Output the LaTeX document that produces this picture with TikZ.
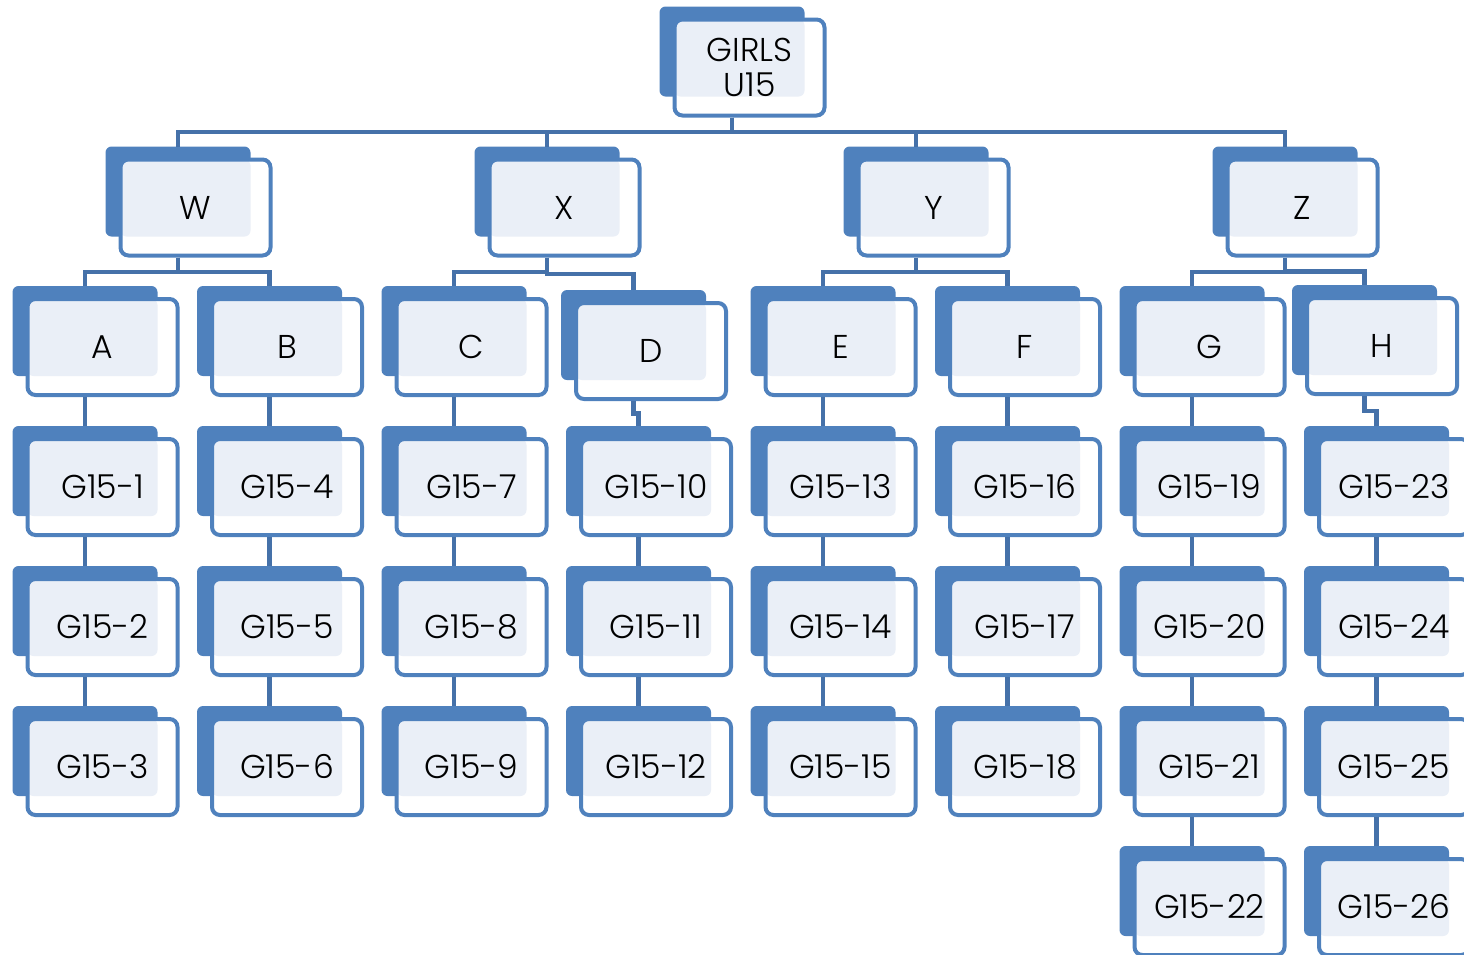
\documentclass[tikz,border=0pt]{standalone}
\usepackage{fontspec}
\setmainfont{Poppins}[UprightFont = * Light]
\usetikzlibrary{calc}

\definecolor{boxBlue}{HTML}{4F81BD}
\definecolor{boxPale}{HTML}{EAEFF7}
\definecolor{linkBlue}{HTML}{4571A9}

\tikzstyle{backBox} = [fill = boxBlue, rounded corners = 6pt]
\tikzstyle{frontBox} = [draw = boxBlue, line width = 4pt, fill = white,
                        rounded corners = 8pt,
                        minimum width = 150pt, minimum height = 96pt,
                        inner sep = 0pt, align = center,
                        font = \fontsize{33}{35}\selectfont,
                        path picture = {\fill[boxPale, rounded corners = 6pt]
                          (path picture bounding box.north west) rectangle
                          ([shift={(130pt,-77pt)}]path picture bounding box.north west);}
                        ]
\tikzstyle{link} = [draw = linkBlue, line width = 4.5pt]

% name, x, y, text
\newcommand{\teamBox}[4]{%
    \fill[backBox] (#2-90, #3-61) rectangle (#2+55, #3+29);
    \node[frontBox] (#1) at (#2, #3) {#4};
    \coordinate (#1-top) at (#2-17.5, #3-61);
    \coordinate (#1-bot) at ([xshift=-17.5pt]#1.south);
}
\newcommand{\teamLink}[2]{%
    \draw[link] (#1-bot) |- ($(#1-bot)!0.5!(#2-top)$) -| (#2-top);
}

\begin{document}
\begin{tikzpicture}[x = 1pt, y = -1pt]

    \useasboundingbox (0, 0) rectangle (1464, 954);

    %%% Top
    \teamBox{U}{749.5}{67.5}{GIRLS\\U15}

    %%% Groups
    \teamBox{W}{195.5}{207.5}{W}
    \teamBox{X}{564.5}{207.5}{X}
    \teamBox{Y}{933.5}{207.5}{Y}
    \teamBox{Z}{1302.5}{207.5}{Z}

    %%% Pools
    \teamBox{A}{102.5}{347}{A}
    \teamBox{B}{287}{347}{B}
    \teamBox{C}{471.5}{347}{C}
    \teamBox{D}{651}{351}{D}
    \teamBox{E}{840.5}{347}{E}
    \teamBox{F}{1025}{347}{F}
    \teamBox{G}{1209.5}{347}{G}
    \teamBox{H}{1382}{346}{H}

    %%% Teams
    % A
    \teamBox{t1}{102.5}{487}{G15-1}
    \teamBox{t2}{102.5}{627}{G15-2}
    \teamBox{t3}{102.5}{767}{G15-3}
    % B
    \teamBox{t4}{287}{487}{G15-4}
    \teamBox{t5}{287}{627}{G15-5}
    \teamBox{t6}{287}{767}{G15-6}
    % C
    \teamBox{t7}{471.5}{487}{G15-7}
    \teamBox{t8}{471.5}{627}{G15-8}
    \teamBox{t9}{471.5}{767}{G15-9}
    % D
    \teamBox{t10}{656}{487}{G15-10}
    \teamBox{t11}{656}{627}{G15-11}
    \teamBox{t12}{656}{767}{G15-12}
    % E
    \teamBox{t13}{840.5}{487}{G15-13}
    \teamBox{t14}{840.5}{627}{G15-14}
    \teamBox{t15}{840.5}{767}{G15-15}
    % F
    \teamBox{t16}{1025}{487}{G15-16}
    \teamBox{t17}{1025}{627}{G15-17}
    \teamBox{t18}{1025}{767}{G15-18}
    % G
    \teamBox{t19}{1209.5}{487}{G15-19}
    \teamBox{t20}{1209.5}{627}{G15-20}
    \teamBox{t21}{1209.5}{767}{G15-21}
    \teamBox{t22}{1209.5}{907}{G15-22}
    % H
    \teamBox{t23}{1394}{487}{G15-23}
    \teamBox{t24}{1394}{627}{G15-24}
    \teamBox{t25}{1394}{767}{G15-25}
    \teamBox{t26}{1394}{907}{G15-26}

    %%% Links
    \teamLink{U}{W}
    \teamLink{U}{X}
    \teamLink{U}{Y}
    \teamLink{U}{Z}

    \teamLink{W}{A}
    \teamLink{W}{B}
    \teamLink{X}{C}
    \teamLink{X}{D}
    \teamLink{Y}{E}
    \teamLink{Y}{F}
    \teamLink{Z}{G}
    \teamLink{Z}{H}

        % Pools to teams
        \teamLink{A}{t1}  \teamLink{t1}{t2}   \teamLink{t2}{t3}
        \teamLink{B}{t4}  \teamLink{t4}{t5}   \teamLink{t5}{t6}
        \teamLink{C}{t7}  \teamLink{t7}{t8}   \teamLink{t8}{t9}
        \teamLink{D}{t10} \teamLink{t10}{t11} \teamLink{t11}{t12}
        \teamLink{E}{t13} \teamLink{t13}{t14} \teamLink{t14}{t15}
        \teamLink{F}{t16} \teamLink{t16}{t17} \teamLink{t17}{t18}
        \teamLink{G}{t19} \teamLink{t19}{t20} \teamLink{t20}{t21} \teamLink{t21}{t22}
        \teamLink{H}{t23} \teamLink{t23}{t24} \teamLink{t24}{t25} \teamLink{t25}{t26}

\end{tikzpicture}
\end{document}
